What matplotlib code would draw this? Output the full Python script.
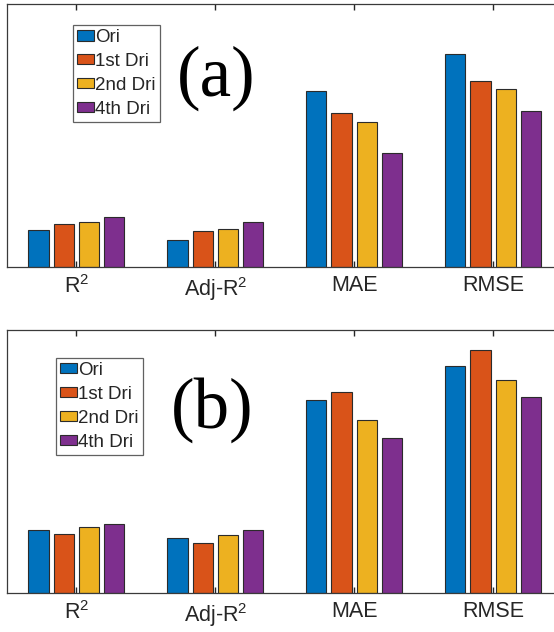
import matplotlib
matplotlib.use("Agg")
import matplotlib.pyplot as plt
import numpy as np

plt.rcParams['font.family'] = ['Liberation Sans', 'DejaVu Sans']
plt.rcParams['mathtext.fontset'] = 'custom'
plt.rcParams['mathtext.rm'] = 'Liberation Sans'
plt.rcParams['mathtext.it'] = 'Liberation Sans'

categories = ['R$^{2}$', 'Adj-R$^{2}$', 'MAE', 'RMSE']
series = ['Ori', '1st Dri', '2nd Dri', '4th Dri']
colors = ['#0072BD', '#D95319', '#EDB120', '#7E2F8E']

# panel (a) values (normalised, arbitrary units)
a_ori = [0.140, 0.103, 0.669, 0.811]
a_1st = [0.165, 0.137, 0.587, 0.707]
a_2nd = [0.171, 0.146, 0.550, 0.678]
a_4th = [0.189, 0.171, 0.433, 0.593]

# panel (b) values
b_ori = [0.240, 0.209, 0.734, 0.862]
b_1st = [0.225, 0.191, 0.766, 0.923]
b_2nd = [0.250, 0.223, 0.657, 0.809]
b_4th = [0.265, 0.240, 0.588, 0.746]

fig = plt.figure(figsize=(5.54, 6.32), dpi=100)
W, H = 554, 632

def make_panel(rect, data, label, leg_anchor, lab_xy):
    ax = fig.add_axes(rect)
    x = np.arange(1, len(categories) + 1)
    step = 0.182
    width = 0.146
    offsets = (np.arange(len(series)) - 1.5) * step
    for vals, name, c, off in zip(data, series, colors, offsets):
        ax.bar(x + off, vals, width=width, color=c, edgecolor='#2b2b2b',
               linewidth=0.8, label=name, zorder=2)
    ax.set_xlim(0.5, 4.5)
    ax.set_ylim(0, 1.0)
    ax.set_xticks(x)
    ax.set_xticklabels(categories, fontsize=15.5, color='#262626')
    ax.set_yticks([])
    ax.tick_params(axis='x', direction='in', length=4, width=1.0,
                   top=True, color='#262626', pad=5.5)
    for s in ax.spines.values():
        s.set_color('#3a3a3a')
        s.set_linewidth(0.9)
    leg = ax.legend(loc='upper left', bbox_to_anchor=leg_anchor,
                    borderaxespad=0, frameon=True, fancybox=False,
                    fontsize=13.5, handlelength=0.9, handleheight=0.45,
                    handletextpad=0.08, labelspacing=0.37, borderpad=0.22,
                    edgecolor='#3a3a3a')
    leg.get_frame().set_linewidth(0.9)
    for t in leg.get_texts():
        t.set_color('#262626')
    ax.text(lab_xy[0], lab_xy[1], label, transform=ax.transAxes,
            ha='center', va='center', fontsize=51,
            family='Liberation Serif', color='black')
    return ax

axL = 7 / W
axW = 555.5 / W
make_panel([axL, (H - 267) / H, axW, 263 / H],
           [a_ori, a_1st, a_2nd, a_4th], '(a)', (0.118, 0.920), (0.376, 0.717))
make_panel([axL, (H - 593.3) / H, axW, 263.3 / H],
           [b_ori, b_1st, b_2nd, b_4th], '(b)', (0.088, 0.895), (0.370, 0.696))

fig.savefig('out.png', dpi=100)
